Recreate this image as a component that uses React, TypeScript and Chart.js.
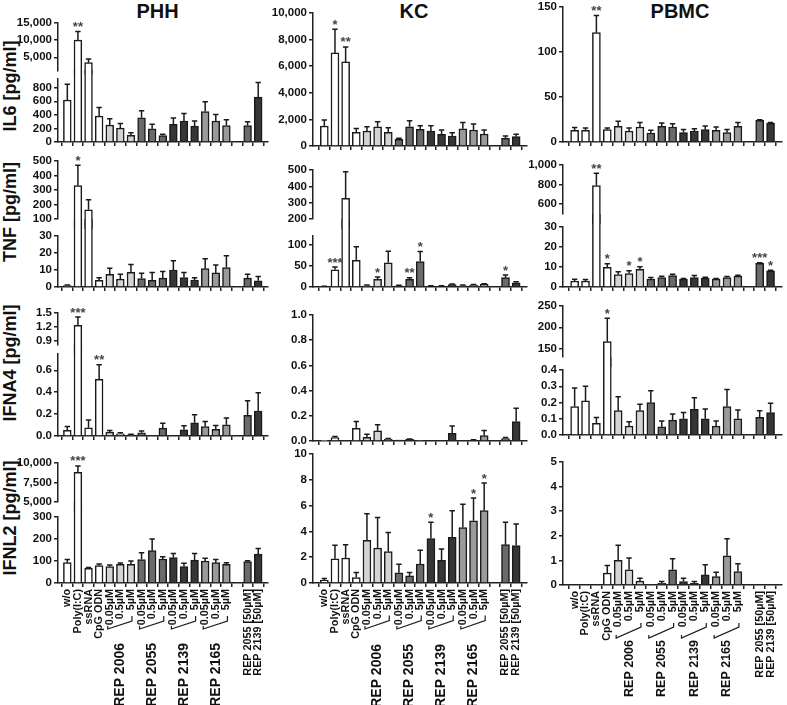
import React, { useEffect, useRef } from 'react';
import { Chart, registerables } from 'chart.js';
Chart.register(...registerables);

const FONT = "'Liberation Sans', Arial, Helvetica, sans-serif";
const AXIS = '#222222';

const CATEGORIES = ['w/o', 'Poly(I:C)', 'ssRNA', 'CpG ODN', '0.05µM', '0.5µM', '5µM', '0.05µM', '0.5µM', '5µM', '0.05µM', '0.5µM', '5µM', '0.05µM', '0.5µM', '5µM', '', 'REP 2055 [50µM]', 'REP 2139 [50µM]'];
const GROUP_LABELS = ['REP 2006', 'REP 2055', 'REP 2139', 'REP 2165'];
const GROUP_STARTS = [4, 7, 10, 13];
const BAR_COLORS = ['#ffffff', '#ffffff', '#ffffff', '#ffffff', '#d4d4d4', '#d4d4d4', '#d4d4d4', '#6a6a6a', '#6a6a6a', '#6a6a6a', '#363636', '#363636', '#363636', '#9a9a9a', '#9a9a9a', '#9a9a9a', '#ffffff', '#6a6a6a', '#363636'];
const COLUMN_TITLES = ['PHH', 'KC', 'PBMC'];
const ROW_TITLES = ['IL6 [pg/ml]', 'TNF [pg/ml]', 'IFNA4 [pg/ml]', 'IFNL2 [pg/ml]'];

// ---- IL6 ----
const PHH_IL6 = [619, 10000, 3430, 381, 248, 205, 100, 357, 195, 95, 262, 310, 233, 448, 310, 243, null, 243, 662];
const PHH_IL6_ERR = [233, 2550, 1080, 129, 95, 66, 38, 105, 67, 19, 90, 109, 77, 147, 95, 85, null, 57, 214];
const PHH_IL6_SIG = [[1, '**']];
const KC_IL6 = [1500, 7000, 6325, 1025, 1125, 1450, 1025, 500, 1450, 1250, 1125, 875, 750, 1300, 1200, 900, null, 575, 700];
const KC_IL6_ERR = [450, 1775, 1125, 300, 325, 375, 350, 75, 450, 275, 400, 325, 250, 475, 450, 300, null, 175, 175];
const KC_IL6_SIG = [[1, '*'], [2, '**']];
const PBMC_IL6 = [13, 13, 121.5, 13.7, 17.4, 12.2, 16.7, 10, 17.4, 16.7, 10.4, 12.2, 13.7, 13, 10.4, 17.4, null, 24, 21];
const PBMC_IL6_ERR = [3, 2.5, 19, 1.8, 5.6, 3.3, 5.1, 3, 3.6, 3.7, 3.6, 2.6, 4.1, 3.7, 3.6, 4.4, null, 0.8, 0.8];
const PBMC_IL6_SIG = [[2, '**']];

// ---- TNF ----
const PHH_TNF = [0.8, 330, 163, 3.9, 7.5, 4.6, 8.7, 5, 3.9, 5.2, 10, 5.6, 4.1, 10.8, 8.3, 11.4, null, 5.2, 3.7];
const PHH_TNF_ERR = [0.4, 140, 69, 1.5, 3.5, 2.9, 4.6, 3.1, 4.6, 3.9, 5.5, 2.9, 1.3, 5.8, 4.7, 7, null, 2.3, 2.5];
const PHH_TNF_SIG = [[1, '*']];
const KC_TNF = [1.5, 40.6, 327, 62.5, 3, 18, 57, 3, 18, 60, 2.3, 2.3, 5.5, 3, 4.7, 6.2, null, 22, 10];
const KC_TNF_ERR = [0.5, 6.4, 163, 32.5, 1.5, 5.4, 27, 1, 4, 23.6, 0.5, 0.5, 1.5, 1.5, 1.3, 1.6, null, 6, 2.5];
const KC_TNF_SIG = [[1, '***'], [5, '*'], [8, '**'], [9, '*'], [17, '*']];
const PBMC_TNF = [3, 3, 790, 9.8, 6.2, 6.7, 8.8, 3.9, 4.7, 5.7, 3.9, 4.7, 4.4, 3.9, 4.7, 5.4, null, 11.8, 8.1];
const PBMC_TNF_ERR = [0.9, 0.7, 126, 1.8, 1.4, 1.4, 1.3, 0.8, 0.7, 0.7, 0.3, 1, 0.5, 0.3, 0.5, 0.5, null, 0.3, 0.3];
const PBMC_TNF_SIG = [[2, '**'], [3, '*'], [5, '*'], [6, '*'], [17, '***'], [18, '*']];

// ---- IFNA4 ----
const PHH_IFNA4 = [0.051, 1.23, 0.075, 0.517, 0.035, 0.02, 0.01, 0.03, null, 0.072, null, 0.057, 0.12, 0.087, 0.06, 0.102, null, 0.189, 0.228];
const PHH_IFNA4_ERR = [0.036, 0.18, 0.072, 0.135, 0.015, 0.01, 0.005, 0.015, null, 0.045, null, 0.036, 0.075, 0.045, 0.036, 0.063, null, 0.132, 0.168];
const PHH_IFNA4_SIG = [[1, '***'], [3, '**']];
const KC_IFNA4 = [0.005, 0.027, null, 0.1, 0.03, 0.08, 0.013, 0.008, 0.013, 0.005, null, null, 0.061, null, 0.008, 0.043, null, 0.019, 0.155];
const KC_IFNA4_ERR = [0, 0.008, null, 0.055, 0.023, 0.048, 0.006, 0, 0.003, 0, null, null, 0.059, null, 0.002, 0.04, null, 0.008, 0.105];
const KC_IFNA4_SIG = [];
const PBMC_IFNA4 = [0.175, 0.21, 0.072, 166, 0.15, 0.055, 0.15, 0.2, 0.051, 0.092, 0.1, 0.158, 0.1, 0.055, 0.175, 0.1, null, 0.109, 0.138];
const PBMC_IFNA4_ERR = [0.115, 0.09, 0.035, 55, 0.086, 0.027, 0.039, 0.073, 0.035, 0.037, 0.038, 0.072, 0.06, 0.031, 0.105, 0.054, null, 0.041, 0.057];
const PBMC_IFNA4_SIG = [[3, '*']];

// ---- IFNL2 ----
const PHH_IFNL2 = [92.5, 8800, 67, 79, 74.6, 85, 85, 107, 147, 109, 116, 74.6, 104, 100, 92.5, 85, null, 97, 131];
const PHH_IFNL2_ERR = [14.5, 820, 3, 7.6, 7.4, 6, 15, 30, 53, 10, 18, 15, 30, 12, 14.5, 7.5, null, 4, 26];
const PHH_IFNL2_SIG = [[1, '***']];
const KC_IFNL2 = [0.21, 1.88, 1.94, 0.42, 3.3, 2.7, 2.44, 0.79, 0.55, 1.47, 3.44, 1.76, 3.55, 4.3, 4.82, 5.62, null, 2.97, 2.9];
const KC_IFNL2_ERR = [0.13, 1.04, 1.03, 0.4, 2.06, 2.38, 1.47, 0.66, 0.27, 1.07, 1.27, 0.88, 2.05, 1.8, 1.76, 2.13, null, 1.74, 1.68];
const KC_IFNL2_SIG = [[10, '*'], [14, '*'], [15, '*']];
const PBMC_IFNL2 = [null, null, null, 0.48, 1.0, 0.62, 0.16, null, 0.07, 0.62, 0.14, 0.07, 0.41, 0.34, 1.19, 0.55, null, null, null];
const PBMC_IFNL2_ERR = [null, null, null, 0.31, 0.62, 0.48, 0.11, null, 0.07, 0.45, 0.13, 0.07, 0.41, 0.18, 0.69, 0.31, null, null, null];
const PBMC_IFNL2_SIG = [];

// ---- layout (pixel geometry) ----
const COLS: any = {
  PHH: { axisX: 58, first: 62, last: 263.5, right: 268, barW: 7.8, groupFont: 14, brL: 46, brR: 38, brV: 5, textTop: 60 },
  KC: { axisX: 312.5, first: 319, last: 521.5, right: 527, barW: 8, groupFont: 14, brL: 46, brR: 37.5, brV: 5, textTop: 61 },
  PBMC: { axisX: 563, first: 569.2, last: 776, right: 782, barW: 8, groupFont: 12.5, brL: 53, brR: 42, brV: 4, textTop: 55 },
};

const PANELS: any[] = [
  { col: 'PHH', v: PHH_IL6, e: PHH_IL6_ERR, s: PHH_IL6_SIG, bottomRow: false,
    lower: { min: 0, max: 930, top: 76.8, bottom: 142.3, ticks: [0, 200, 400, 600, 800], dec: 0 },
    upper: { min: 1000, max: 15000, top: 23.3, bottom: 70.9, ticks: [5000, 10000, 15000], dec: 0 } },
  { col: 'KC', v: KC_IL6, e: KC_IL6_ERR, s: KC_IL6_SIG, bottomRow: false,
    lower: { min: 0, max: 10000, top: 13.3, bottom: 146, ticks: [0, 2000, 4000, 6000, 8000, 10000], dec: 0 } },
  { col: 'PBMC', v: PBMC_IL6, e: PBMC_IL6_ERR, s: PBMC_IL6_SIG, bottomRow: false,
    lower: { min: 0, max: 150, top: 7.3, bottom: 141.7, ticks: [0, 50, 100, 150], dec: 0 } },

  { col: 'PHH', v: PHH_TNF, e: PHH_TNF_ERR, s: PHH_TNF_SIG, bottomRow: false,
    lower: { min: 0, max: 30, top: 235.7, bottom: 287.3, ticks: [0, 10, 20, 30], dec: 0 },
    upper: { min: 100, max: 500, top: 160.7, bottom: 218.7, ticks: [100, 200, 300, 400, 500], dec: 0 } },
  { col: 'KC', v: KC_TNF, e: KC_TNF_ERR, s: KC_TNF_SIG, bottomRow: false,
    lower: { min: 0, max: 120, top: 235.5, bottom: 286.7, ticks: [0, 50, 100], dec: 0 },
    upper: { min: 200, max: 500, top: 170.2, bottom: 219.3, ticks: [200, 300, 400, 500], dec: 0 } },
  { col: 'PBMC', v: PBMC_TNF, e: PBMC_TNF_ERR, s: PBMC_TNF_SIG, bottomRow: false,
    lower: { min: 0, max: 30, top: 227.3, bottom: 286.7, ticks: [0, 10, 20, 30], dec: 0 },
    upper: { min: 500, max: 1000, top: 165.1, bottom: 214.1, ticks: [600, 800, 1000], dec: 0 } },

  { col: 'PHH', v: PHH_IFNA4, e: PHH_IFNA4_ERR, s: PHH_IFNA4_SIG, bottomRow: false,
    lower: { min: 0, max: 0.75, top: 352.7, bottom: 435.7, ticks: [0, 0.2, 0.4, 0.6], dec: 1 },
    upper: { min: 0.8, max: 1.5, top: 312.7, bottom: 344.6, ticks: [0.9, 1.2, 1.5], dec: 1 } },
  { col: 'KC', v: KC_IFNA4, e: KC_IFNA4_ERR, s: KC_IFNA4_SIG, bottomRow: false,
    lower: { min: 0, max: 1, top: 315, bottom: 441, ticks: [0, 0.2, 0.4, 0.6, 0.8, 1.0], dec: 1 } },
  { col: 'PBMC', v: PBMC_IFNA4, e: PBMC_IFNA4_ERR, s: PBMC_IFNA4_SIG, bottomRow: false,
    lower: { min: 0, max: 0.4, top: 370, bottom: 435, ticks: [0, 0.1, 0.2, 0.3, 0.4], dec: 1 },
    upper: { min: 130, max: 250, top: 306, bottom: 357, ticks: [150, 200, 250], dec: 0 } },

  { col: 'PHH', v: PHH_IFNL2, e: PHH_IFNL2_ERR, s: PHH_IFNL2_SIG, bottomRow: true,
    lower: { min: 0, max: 300, top: 516.7, bottom: 583.3, ticks: [0, 100, 200, 300], dec: 0 },
    upper: { min: 5000, max: 10000, top: 462.7, bottom: 502.3, ticks: [5000, 7500, 10000], dec: 0 } },
  { col: 'KC', v: KC_IFNL2, e: KC_IFNL2_ERR, s: KC_IFNL2_SIG, bottomRow: true,
    lower: { min: 0, max: 10, top: 454.3, bottom: 582.7, ticks: [0, 2, 4, 6, 8, 10], dec: 0 } },
  { col: 'PBMC', v: PBMC_IFNL2, e: PBMC_IFNL2_ERR, s: PBMC_IFNL2_SIG, bottomRow: true,
    lower: { min: 0, max: 5, top: 461.7, bottom: 585, ticks: [0, 1, 2, 3, 4, 5], dec: 0 } },
];

const ROW_TITLE_POS = [[10, 86], [10, 211.7], [10, 363], [10, 517.5]];
const COL_TITLE_X = [157.5, 414, 680];

const fmt = (v: number, dec: number) =>
  Number(v).toLocaleString('en-US', { minimumFractionDigits: dec, maximumFractionDigits: dec });

function SegmentChart({ col, seg, values, errs, sig, kind, padTop, bottomRow }: any) {
  const ref = useRef<HTMLCanvasElement>(null);
  const YW = 50;
  const PADR = 10;
  const axisX = Math.round(col.axisX);
  const plotW = Math.round(col.right) - axisX;
  const top = Math.round(seg.top);
  const bottom = Math.round(seg.bottom);
  const hasX = kind !== 'upper';
  const xH = hasX ? (bottomRow ? 705 - bottom : 6) : 0;
  const padB = hasX ? (bottomRow ? 0 : 4) : 10;
  const width = YW + plotW + PADR;
  const height = padTop + (bottom - top) + xH + padB;
  const left = axisX - YW;
  const canvasTop = top - padTop;

  useEffect(() => {
    const spacing = (col.last - col.first) / 18;
    const xmin = -(col.first - axisX) / spacing;
    const xmax = xmin + plotW / spacing;
    const sigMap: any = {};
    sig.forEach((p: any) => { sigMap[p[0]] = p[1]; });
    const data = values.map((v: any, i: number) => ({
      x: i,
      y: v == null ? null : (kind === 'upper' && v <= seg.min ? null : v),
    }));

    const errPlugin = {
      id: 'errbars',
      afterDatasetsDraw(chart: any) {
        const ctx = chart.ctx;
        const ys = chart.scales.y;
        const xs = chart.scales.x;
        ctx.save();
        ctx.strokeStyle = '#1a1a1a';
        ctx.lineWidth = 1.5;
        ctx.fillStyle = '#444444';
        ctx.font = `bold 13px ${FONT}`;
        ctx.textAlign = 'center';
        ctx.textBaseline = 'alphabetic';
        values.forEach((v: any, i: number) => {
          if (v == null || v < ys.min || v > ys.max) return;
          if (kind === 'upper' && v <= seg.min) return;
          const x = xs.getPixelForValue(i);
          const e = errs[i] || 0;
          const yv = ys.getPixelForValue(v);
          const ye = ys.getPixelForValue(v + e);
          if (e > 0) {
            ctx.beginPath();
            ctx.moveTo(x, yv);
            ctx.lineTo(x, ye);
            ctx.moveTo(x - 2.7, ye);
            ctx.lineTo(x + 2.7, ye);
            ctx.stroke();
          }
          if (sigMap[i]) ctx.fillText(sigMap[i], x, ye - 0.5);
        });
        ctx.restore();
      },
    };

    const groupPlugin = {
      id: 'groups',
      afterDraw(chart: any) {
        if (!bottomRow) return;
        const ctx = chart.ctx;
        const xs = chart.scales.x;
        const base = chart.chartArea.bottom;
        ctx.save();
        ctx.strokeStyle = '#1a1a1a';
        ctx.lineWidth = 1.2;
        ctx.fillStyle = '#111111';
        ctx.font = `bold ${col.groupFont}px ${FONT}`;
        GROUP_STARTS.forEach((s, gi) => {
          const x1 = xs.getPixelForValue(s) - 2;
          const x2 = xs.getPixelForValue(s + 2) + 1;
          ctx.beginPath();
          ctx.moveTo(x1, base + col.brL - 3);
          ctx.lineTo(x1, base + col.brL);
          ctx.lineTo(x2, base + col.brR);
          ctx.lineTo(x2, base + col.brR - col.brV);
          ctx.stroke();
          const xm = xs.getPixelForValue(s + 1);
          ctx.save();
          ctx.translate(xm, base + col.textTop);
          ctx.rotate(-Math.PI / 2);
          ctx.textAlign = 'right';
          ctx.textBaseline = 'middle';
          ctx.fillText(GROUP_LABELS[gi], 0, 0);
          ctx.restore();
        });
        ctx.restore();
      },
    };

    const chart = new Chart(ref.current as HTMLCanvasElement, {
      type: 'bar',
      data: {
        datasets: [{
          data,
          backgroundColor: BAR_COLORS,
          borderColor: '#1a1a1a',
          borderWidth: 1.5,
          borderSkipped: 'start',
          barThickness: col.barW,
          clip: false as any,
        }],
      },
      options: {
        animation: false,
        responsive: false,
        devicePixelRatio: 1,
        layout: { padding: { top: padTop, right: PADR, bottom: padB, left: 0 } },
        plugins: { legend: { display: false }, tooltip: { enabled: false } },
        scales: {
          x: {
            type: 'linear',
            display: hasX,
            min: xmin,
            max: xmax,
            bounds: 'data',
            afterBuildTicks: (s: any) => { s.ticks = CATEGORIES.map((_, i) => ({ value: i })); },
            afterFit: (s: any) => { s.height = xH; },
            grid: { display: true, drawOnChartArea: false, drawTicks: true, tickLength: 4, color: AXIS, lineWidth: 1.5 },
            border: { display: true, color: AXIS, width: 1.5 },
            ticks: {
              display: !!bottomRow,
              autoSkip: false,
              maxRotation: 90,
              minRotation: 90,
              padding: 2,
              color: '#111111',
              font: { family: FONT, size: 10.8, weight: 'bold' },
              callback: (v: any) => CATEGORIES[Math.round(v)] ?? '',
            },
          } as any,
          y: {
            type: 'linear',
            min: seg.min,
            max: seg.max,
            afterBuildTicks: (s: any) => { s.ticks = seg.ticks.map((t: number) => ({ value: t })); },
            afterFit: (s: any) => { s.width = YW; },
            grid: { display: true, drawOnChartArea: false, drawTicks: true, tickLength: 4, color: AXIS, lineWidth: 1.5 },
            border: { display: true, color: AXIS, width: 1.5 },
            ticks: {
              autoSkip: false,
              padding: 2,
              color: '#111111',
              font: { family: FONT, size: 11.5, weight: 'bold' },
              callback: (v: any) => fmt(v, seg.dec),
            },
          } as any,
        },
      },
      plugins: [errPlugin, groupPlugin],
    } as any);
    return () => chart.destroy();
  }, []);

  return (
    <canvas
      ref={ref}
      width={width}
      height={height}
      style={{ position: 'absolute', left, top: canvasTop, width, height }}
    />
  );
}

function Panel({ p }: any) {
  const col = COLS[p.col];
  const lower = p.lower;
  const upper = p.upper;
  const lowerPad = upper ? Math.max(7, Math.round(lower.top) - Math.round(upper.bottom)) : 14;
  return (
    <>
      {upper && (
        <SegmentChart col={col} seg={upper} values={p.v} errs={p.e} sig={p.s} kind="upper" padTop={14} bottomRow={false} />
      )}
      <SegmentChart col={col} seg={lower} values={p.v} errs={p.e} sig={p.s} kind={upper ? 'lower' : 'single'} padTop={lowerPad} bottomRow={p.bottomRow} />
    </>
  );
}

export default function App() {
  return (
    <div style={{ position: 'absolute', left: 0, top: 0, width: 787, height: 705, background: '#ffffff', overflow: 'hidden', fontFamily: FONT }}>
      {COLUMN_TITLES.map((t, i) => (
        <div key={t} style={{ position: 'absolute', left: COL_TITLE_X[i], top: 1, transform: 'translateX(-50%)', fontSize: 20, lineHeight: '20px', fontWeight: 'bold', color: '#111', whiteSpace: 'nowrap' }}>{t}</div>
      ))}
      {ROW_TITLES.map((t, i) => (
        <div key={t} style={{ position: 'absolute', left: ROW_TITLE_POS[i][0], top: ROW_TITLE_POS[i][1], transform: 'translate(-50%, -50%) rotate(-90deg)', fontSize: 18, lineHeight: '18px', fontWeight: 'bold', color: '#111', whiteSpace: 'nowrap' }}>{t}</div>
      ))}
      {PANELS.map((p, i) => <Panel key={i} p={p} />)}
    </div>
  );
}
